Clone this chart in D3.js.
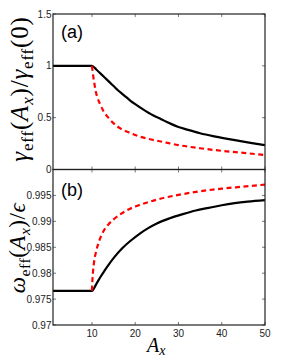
<!DOCTYPE html>
<html><head><meta charset="utf-8">
<script src="https://cdn.jsdelivr.net/npm/d3@7"></script>
<style>
html,body{margin:0;padding:0;background:#fff;}
svg{display:block;}
</style></head>
<body>
<script>
// ---- data ----
const xTicks = [10, 20, 30, 40, 50];
const yTicksA = [0, 0.5, 1, 1.5];
const yTicksB = [0.97, 0.975, 0.98, 0.985, 0.99, 0.995];
const yTickLabelsB = ["0.97", "0.975", "0.98", "0.985", "0.99", "0.995"];

// panel (a): gamma_eff(A_x)/gamma_eff(0)
const gammaSolidX = [1, 10, 11, 12, 13, 14, 15, 16, 17, 18, 19, 20, 22, 24, 26, 28, 30, 32, 35, 38, 41, 44, 47, 50];
const gammaSolidY = [1, 1, 0.965, 0.925, 0.885, 0.845, 0.805, 0.765, 0.73, 0.695, 0.66, 0.63, 0.575, 0.525, 0.485, 0.445, 0.41, 0.385, 0.35, 0.322, 0.298, 0.276, 0.255, 0.235];
const gammaDashX = [10, 10.15, 10.3, 10.6, 10.9, 11.3, 11.9, 12.7, 13.9, 14.9, 16.8, 18.7, 20.5, 22.6, 26.5, 30, 35, 40, 45, 50];
const gammaDashY = [1, 0.95, 0.9, 0.82, 0.75, 0.69, 0.63, 0.56, 0.495, 0.45, 0.39, 0.355, 0.325, 0.3, 0.265, 0.235, 0.205, 0.18, 0.16, 0.14];

// panel (b): omega_eff(A_x)/epsilon
const omegaSolidX = [1, 10, 11, 12, 13, 14, 15, 17, 19, 21, 23, 25, 28, 31, 34, 37, 40, 43, 46, 50];
const omegaSolidY = [0.9766, 0.9766, 0.9779, 0.9793, 0.9806, 0.9818, 0.9829, 0.9848, 0.9863, 0.9876, 0.9887, 0.9896, 0.9906, 0.9914, 0.9921, 0.9926, 0.9931, 0.9935, 0.9938, 0.9941];
const omegaDashX = [10, 10.1, 10.25, 10.5, 11, 11.8, 12.6, 13.7, 14.9, 16.8, 18.7, 20.5, 22.6, 26, 30, 35, 40, 45, 50];
const omegaDashY = [0.9766, 0.9785, 0.9803, 0.9822, 0.9843, 0.9865, 0.988, 0.9893, 0.9903, 0.9915, 0.9924, 0.993, 0.9936, 0.9944, 0.9951, 0.9958, 0.9963, 0.9967, 0.9971];

// ---- layout ----
const W = 291, H = 360;
const left = 53, right = 265;
const aTop = 14, aBot = 169.5, bTop = 169.5, bBot = 325;
const svg = d3.select("body").append("svg").attr("width", W).attr("height", H);

const x = d3.scaleLinear().domain([1, 50]).range([left, right]);
const yA = d3.scaleLinear().domain([0, 1.5]).range([aBot, aTop]);
const yB = d3.scaleLinear().domain([0.97, 1.0]).range([bBot, bTop]);

const tickFont = "'Liberation Sans', Arial, sans-serif";
const serif = "'Liberation Serif', 'Times New Roman', serif";

function panel(y, top, bot, yTicks, yLabels, showX) {
  const g = svg.append("g");
  const tl = 3;
  xTicks.forEach(t => {
    g.append("line").attr("x1", x(t)).attr("x2", x(t)).attr("y1", bot).attr("y2", bot - tl).attr("stroke", "#555").attr("stroke-width", 0.8);
    g.append("line").attr("x1", x(t)).attr("x2", x(t)).attr("y1", top).attr("y2", top + tl).attr("stroke", "#555").attr("stroke-width", 0.8);
  });
  yTicks.forEach((t, i) => {
    g.append("line").attr("x1", left).attr("x2", left + tl).attr("y1", y(t)).attr("y2", y(t)).attr("stroke", "#555").attr("stroke-width", 0.8);
    g.append("line").attr("x1", right).attr("x2", right - tl).attr("y1", y(t)).attr("y2", y(t)).attr("stroke", "#555").attr("stroke-width", 0.8);
    g.append("text").attr("x", left - 1.5).attr("y", y(t)).attr("dy", "0.35em")
      .attr("text-anchor", "end").attr("font-family", tickFont).attr("font-size", 10).attr("fill", "#222")
      .text(yLabels[i]);
  });
  if (showX) {
    xTicks.forEach(t => {
      g.append("text").attr("x", x(t)).attr("y", bot + 11.5).attr("text-anchor", "middle")
        .attr("font-family", tickFont).attr("font-size", 10).attr("fill", "#222").text(t);
    });
  }
  return g;
}

panel(yA, aTop, aBot, yTicksA, yTicksA.map(String), false);
panel(yB, bTop, bBot, yTicksB, yTickLabelsB, true);

function curve(xs, ys, y, dashed) {
  const pts = xs.map((v, i) => [v, ys[i]]);
  const line = d3.line().x(d => x(d[0])).y(d => y(d[1])).curve(d3.curveMonotoneX);
  const p = svg.append("path").attr("d", line(pts)).attr("fill", "none")
    .attr("stroke", dashed ? "#ff0000" : "#000").attr("stroke-width", 2.2)
    .attr("stroke-linejoin", "round");
  if (dashed) p.attr("stroke-dasharray", "5,3.5");
}
curve(gammaSolidX, gammaSolidY, yA, false);
curve(gammaDashX, gammaDashY, yA, true);
curve(omegaSolidX, omegaSolidY, yB, false);
curve(omegaDashX, omegaDashY, yB, true);

// frames
svg.append("rect").attr("x", left).attr("y", aTop).attr("width", right - left).attr("height", aBot - aTop)
  .attr("fill", "none").attr("stroke", "#222").attr("stroke-width", 1.2);
svg.append("rect").attr("x", left).attr("y", bTop).attr("width", right - left).attr("height", bBot - bTop)
  .attr("fill", "none").attr("stroke", "#222").attr("stroke-width", 1.2);

// panel labels
svg.append("text").attr("x", 61).attr("y", 38).attr("font-family", tickFont).attr("font-size", 18).text("(a)");
svg.append("text").attr("x", 61).attr("y", 196).attr("font-family", tickFont).attr("font-size", 18).text("(b)");

// x title
const xt = svg.append("text").attr("x", 147).attr("y", 352).attr("font-family", serif).attr("font-size", 20);
xt.append("tspan").attr("font-style", "italic").text("A");
xt.append("tspan").attr("font-style", "italic").attr("font-size", 14).attr("dy", 3).text("x");

// y titles
function ytitle(cx, cy, parts, fs, ls) {
  const t = svg.append("text").attr("transform", `translate(${cx},${cy}) rotate(-90)`)
    .attr("text-anchor", "middle").attr("font-family", serif).attr("font-size", fs)
    .attr("letter-spacing", ls);
  let shift = 0;
  parts.forEach(p => {
    const s = t.append("tspan").text(p.t);
    if (p.i) s.attr("font-style", "italic");
    const target = p.sub ? 5 : 0;
    if (p.sub) s.attr("font-size", fs * 0.68);
    if (target !== shift) { s.attr("dy", target - shift); shift = target; }
  });
}
ytitle(28, 89, [
  {t: "γ", i: 1}, {t: "eff", sub: 1}, {t: "("}, {t: "A", i: 1}, {t: "x", i: 1, sub: 1}, {t: ")"}, {t: "/"},
  {t: "γ", i: 1}, {t: "eff", sub: 1}, {t: "(0)"}
], 25, 0.8);
ytitle(25, 248, [
  {t: "ω", i: 1}, {t: "eff", sub: 1}, {t: "("}, {t: "A", i: 1}, {t: "x", i: 1, sub: 1}, {t: ")"}, {t: "/"},
  {t: "ϵ", i: 1}
], 23, 0.5);
</script>
</body></html>
